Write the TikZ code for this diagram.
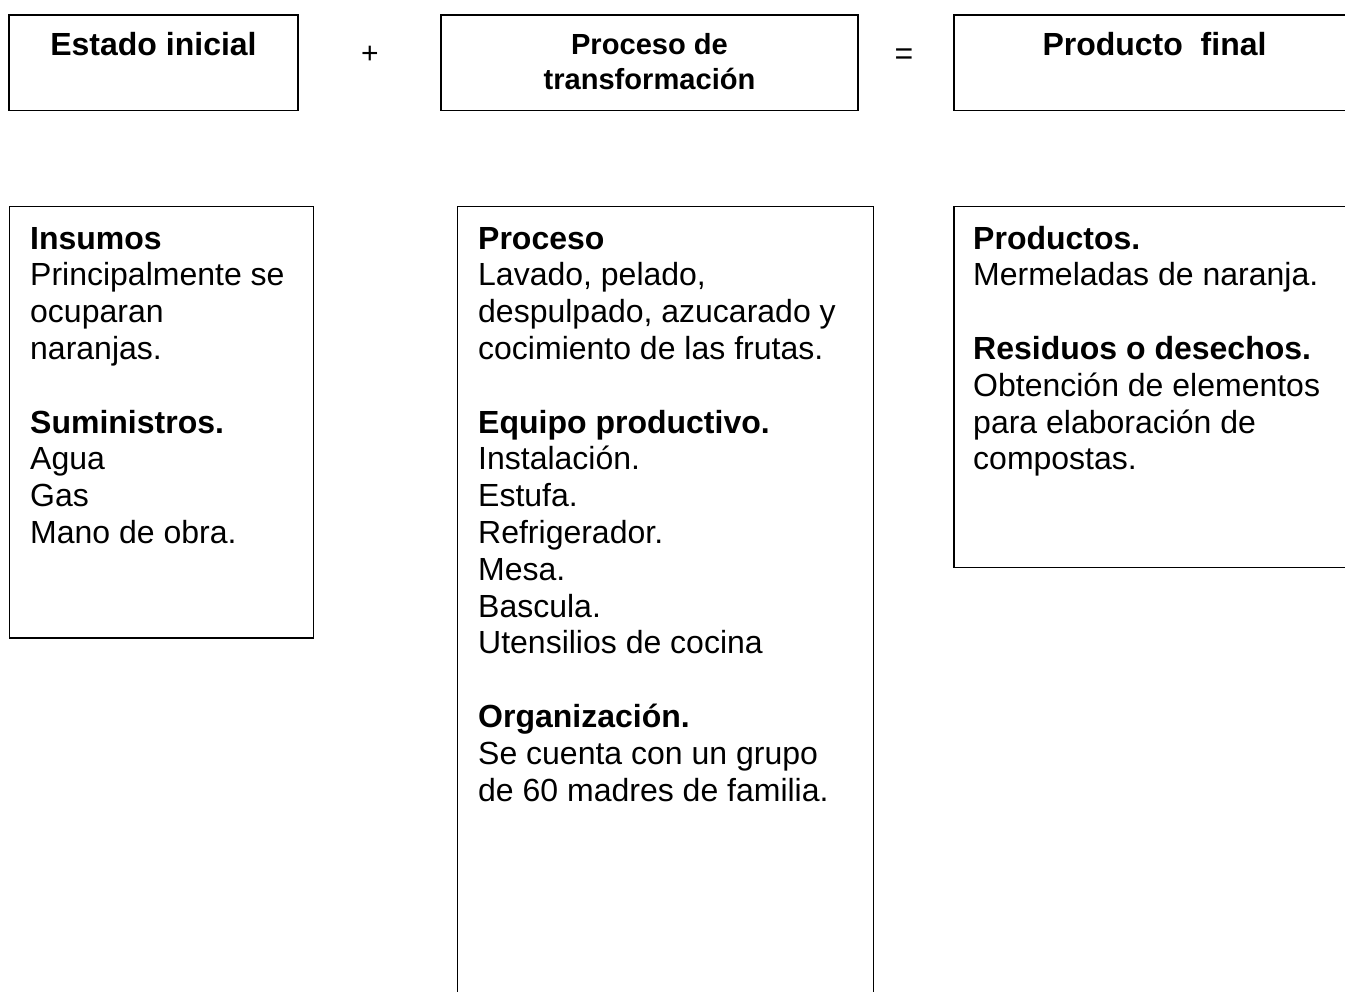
\documentclass[tikz,border=0pt]{standalone}
\usepackage{fontspec}
\setmainfont{Liberation Sans}
\begin{document}
\begin{tikzpicture}[x=1pt,y=-1pt,
  box/.style={draw=black, line width=1.6pt, inner sep=0pt, fill=none},
  body/.style={inner sep=0pt, anchor=north west, align=left, font=\fontsize{32}{36.8}\selectfont},
  ttl/.style={inner sep=0pt, anchor=base, font=\fontsize{32}{36.5}\selectfont\bfseries},
  sym/.style={inner sep=0pt, anchor=center}]
\useasboundingbox (0,0) rectangle (1345,992);
\clip (0,0) rectangle (1345,992);
% header boxes
\node[box, minimum width=289pt, minimum height=95.7pt] (t1) at (153.5,62.85) {};
\node[box, minimum width=417pt, minimum height=95.7pt] (t2) at (649.5,62.85) {};
\node[box, minimum width=401pt, minimum height=95.7pt] (t3) at (1154.5,62.85) {};
\node[ttl] (t1txt) at (153.5,56) {Estado inicial};
\node[inner sep=0pt, anchor=north, align=center, font=\fontsize{29.1}{35}\selectfont\bfseries] (t2txt) at (649.5,29.5) {\strut Proceso de\\transformación};
\node[ttl] (t3txt) at (1154.5,56) {Producto\ \ final};
\node[sym, font=\fontsize{30}{34}\selectfont] (plus) at (370,55) {+};
\node[sym, font=\fontsize{32}{36}\selectfont] (eq) at (904,57) {=};
% body boxes
\node[box, minimum width=304pt, minimum height=431.3pt] (bA) at (161.3,422.35) {};
\node[box, minimum width=416pt, minimum height=793.3pt] (bB) at (665.3,603.35) {};
\node[box, minimum width=406pt, minimum height=360.8pt] (bC) at (1157,387.1) {};
\node[body] (tA) at (30,223.2) {\strut\textbf{Insumos}\\
Principalmente se\\
ocuparan\\
naranjas.\\[36.8pt]
\textbf{Suministros.}\\
Agua\\
Gas\\
Mano de obra.};
\node[body] (tB) at (478,223.2) {\strut\textbf{Proceso}\\
Lavado, pelado,\\
despulpado, azucarado y\\
cocimiento de las frutas.\\[36.8pt]
\textbf{Equipo productivo.}\\
Instalación.\\
Estufa.\\
Refrigerador.\\
Mesa.\\
Bascula.\\
Utensilios de cocina\\[36.8pt]
\textbf{Organización.}\\
Se cuenta con un grupo\\
de 60 madres de familia.};
\node[body] (tC) at (973,223.2) {\strut\textbf{Productos.}\\
Mermeladas de naranja.\\[36.8pt]
\textbf{Residuos o desechos.}\\
Obtención de elementos\\
para elaboración de\\
compostas.};
\end{tikzpicture}
\end{document}
